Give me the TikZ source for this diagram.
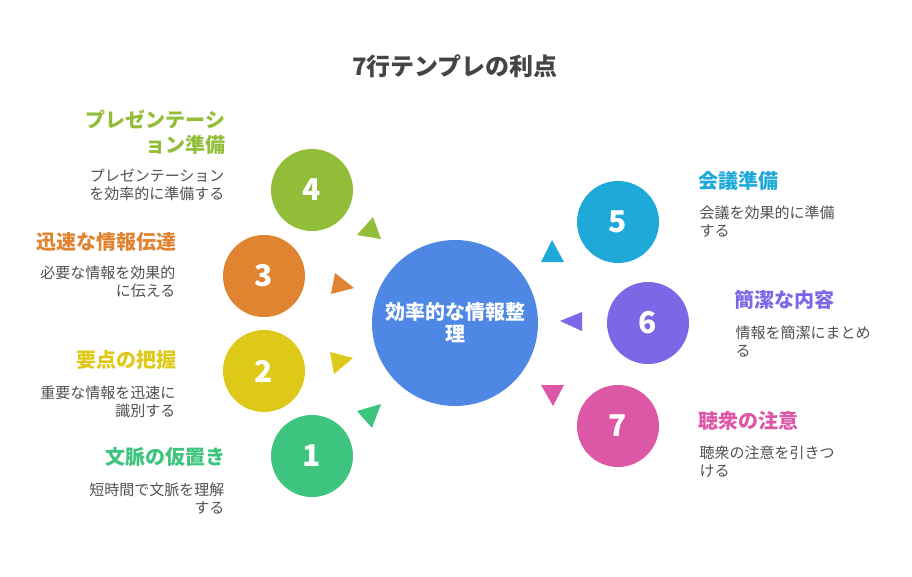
\documentclass[tikz,border=0pt]{standalone}
\usepackage{fontspec}
\setmainfont{Noto Sans CJK JP}
\usetikzlibrary{positioning}
\definecolor{cOne}{HTML}{3DC47E}
\definecolor{cTwo}{HTML}{DFC918}
\definecolor{cThree}{HTML}{E08432}
\definecolor{cFour}{HTML}{92BD38}
\definecolor{cFive}{HTML}{1FA9D8}
\definecolor{cSix}{HTML}{7B68E6}
\definecolor{cSeven}{HTML}{DD57A7}
\definecolor{cHub}{HTML}{4E88E4}
\definecolor{txtgray}{HTML}{505050}
\definecolor{titlegray}{HTML}{444444}
\begin{document}
\begin{tikzpicture}[x=1pt, y=-1pt,
    hub/.style={circle, fill=cHub, minimum size=166pt, inner sep=0pt, text=white, align=center, font=\fontsize{20}{22}\selectfont\bfseries},
    numdot/.style={circle, minimum size=82pt, inner sep=0pt, text=white, font=\fontsize{30}{30}\selectfont\bfseries},
    headL/.style={anchor=base east, align=right, font=\fontsize{20}{25}\selectfont\bfseries},
    headR/.style={anchor=base west, align=left, font=\fontsize{20}{25}\selectfont\bfseries},
    descL/.style={anchor=base east, align=right, text=txtgray, font=\fontsize{15}{18}\selectfont},
    descR/.style={anchor=base west, align=left, text=txtgray, font=\fontsize{15}{18}\selectfont}]
    \useasboundingbox (0,0) rectangle (912,576);

    % Title
    \node[anchor=base, text=titlegray, font=\fontsize{24}{28}\selectfont\bfseries] (title) at (455,75) {7行テンプレの利点};

    % Central circle
    \node[hub] (hub) at (455,323) {効率的な情報整\\理};

    % Left side (base anchor = last line)
    \node[numdot, fill=cFour] (n4) at (312,190) {4};
    \fill[cFour] (357,235) -- (373,217) -- (381,239) -- cycle;
    \node[headL, text=cFour] (h4) at (229,152.6) {プレゼンテーシ\\ョン準備};
    \node[descL] (d4) at (228,199.7) {プレゼンテーション\\を効率的に準備する};

    \node[numdot, fill=cThree] (n3) at (264,276) {3};
    \fill[cThree] (331,294) -- (335,273) -- (354,288) -- cycle;
    \node[headL, text=cThree] (h3) at (180,249.6) {迅速な情報伝達};
    \node[descL] (d3) at (179,296.7) {必要な情報を効果的\\に伝える};

    \node[numdot, fill=cTwo] (n2) at (264,371) {2};
    \fill[cTwo] (330,352) -- (353,358) -- (334,374) -- cycle;
    \node[headL, text=cTwo] (h2) at (180,367.6) {要点の把握};
    \node[descL] (d2) at (179,416.7) {重要な情報を迅速に\\識別する};

    \node[numdot, fill=cOne] (n1) at (312,456) {1};
    \fill[cOne] (357,411) -- (381,404) -- (372,428) -- cycle;
    \node[headL, text=cOne] (h1) at (229,464.6) {文脈の仮置き};
    \node[descL] (d1) at (228,513.7) {短時間で文脈を理解\\する};

    % Right side
    \node[numdot, fill=cFive] (n5) at (618,222) {5};
    \fill[cFive] (552,240) -- (541,262) -- (564,262) -- cycle;
    \node[headR, text=cFive] (h5) at (695,188.6) {会議準備};
    \node[descR] (d5) at (696,236.7) {会議を効果的に準備\\する};

    \node[numdot, fill=cSix] (n6) at (648,323) {6};
    \fill[cSix] (560,321) -- (582,312) -- (582,331) -- cycle;
    \node[headR, text=cSix] (h6) at (731,307.6) {簡潔な内容};
    \node[descR] (d6) at (732,356.7) {情報を簡潔にまとめ\\る};

    \node[numdot, fill=cSeven] (n7) at (618,426) {7};
    \fill[cSeven] (541,385) -- (564,385) -- (553,406) -- cycle;
    \node[headR, text=cSeven] (h7) at (695,428.6) {聴衆の注意};
    \node[descR] (d7) at (696,476.7) {聴衆の注意を引きつ\\ける};
\end{tikzpicture}
\end{document}
